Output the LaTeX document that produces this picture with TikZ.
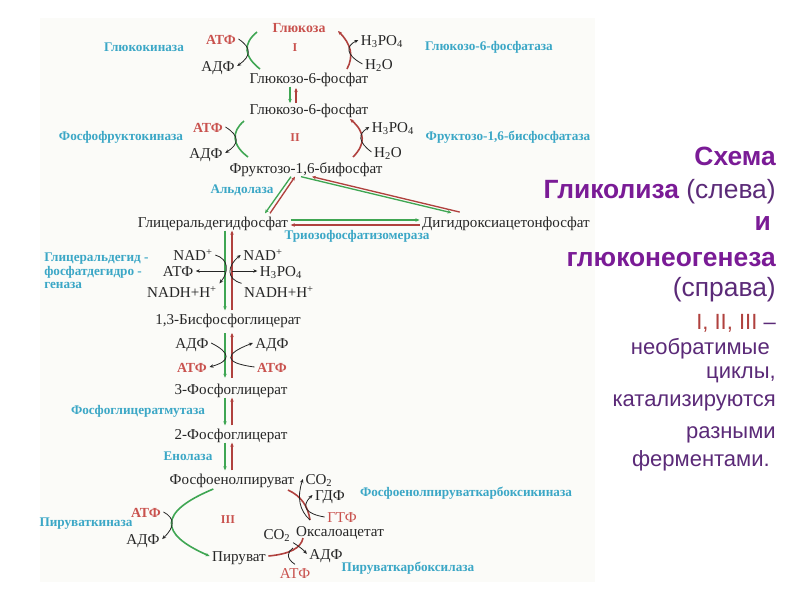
\documentclass[tikz,border=0pt]{standalone}
\usepackage{fontspec}
\setmainfont{Liberation Serif}
\newfontfamily\rightfont{Liberation Sans}
\usetikzlibrary{arrows.meta}
\definecolor{panelc}{HTML}{FBFBF8}
\definecolor{cyanc}{HTML}{3BA7C6}
\definecolor{redc}{HTML}{C9524E}
\definecolor{greenc}{HTML}{3FA653}
\definecolor{darkred}{HTML}{B0413E}
\definecolor{purplec}{HTML}{7A1B96}
\definecolor{purpled}{HTML}{5B2A78}
\tikzset{
  tx/.style={inner sep=0pt,outer sep=2pt,text height=8.5pt,text depth=0.5pt,font=\fontsize{11.3}{13}\selectfont,text=black!85},
  rtx/.style={tx,font=\fontsize{10.4}{12}\selectfont\bfseries,text=redc},
  enz/.style={inner sep=0pt,font=\fontsize{9.9}{11}\selectfont\bfseries,text=cyanc},
  rom/.style={inner sep=0pt,font=\fontsize{9}{10}\selectfont\bfseries,text=redc},
  big/.style={inner sep=0pt,anchor=east,font=\rightfont\fontsize{19.8}{22}\selectfont,text=purpled},
  small/.style={inner sep=0pt,anchor=east,font=\rightfont\fontsize{16.5}{18}\selectfont,text=purpled},
  grn/.style={draw=greenc,line width=1pt,-{Stealth[length=3pt,width=2.6pt]}},
  rdl/.style={draw=darkred,line width=1pt,-{Stealth[length=3pt,width=2.6pt]}},
  garc/.style={draw=greenc,line width=1.2pt},
  rarc/.style={draw=darkred,line width=1.2pt},
  cur/.style={draw=black!85,line width=0.6pt,-{Stealth[length=3pt,width=2.6pt]}},
  pln/.style={draw=black!85,line width=0.6pt}
}
\newcommand{\bp}[1]{\textbf{\textcolor{purplec}{#1}}}
\begin{document}
\begin{tikzpicture}[x=0.75pt,y=-0.75pt]
\useasboundingbox (0,0) rectangle (800,600);
\fill[white] (0,0) rectangle (800,600);
\fill[panelc] (40,18) rectangle (595,582);

% metabolites
\node[rtx] (gluc) at (299,27) {Глюкоза};
\node[rom] (r1) at (295,48) {I};
\node[rtx] (atf1) at (221,39) {АТФ};
\node[tx] (adf1) at (218,66) {АДФ};
\node[enz] (e1) at (144,47) {Глюкокиназа};
\node[tx] (hp1) at (382,40) {H\textsubscript{3}PO\textsubscript{4}};
\node[tx] (hw1) at (379,64) {H\textsubscript{2}O};
\node[enz] (e2) at (489,47) {Глюкозо-6-фосфатаза};
\node[tx] (gA) at (309,78) {Глюкозо-6-фосфат};
\node[tx] (gB) at (309,109) {Глюкозо-6-фосфат};
\node[rtx] (atf2) at (208,127) {АТФ};
\node[tx] (adf2) at (206,153) {АДФ};
\node[enz] (e3) at (121,137) {Фосфофруктокиназа};
\node[rom] (r2) at (295,138) {II};
\node[tx] (hp2) at (393,127) {H\textsubscript{3}PO\textsubscript{4}};
\node[tx] (hw2) at (388,152) {H\textsubscript{2}O};
\node[enz] (e4) at (508,137) {Фруктозо-1,6-бисфосфатаза};
\node[tx] (fbp) at (306,168) {Фруктозо-1,6-бифосфат};
\node[enz] (e5) at (242,190) {Альдолаза};
\node[tx] (gap) at (213,222) {Глицеральдегидфосфат};
\node[tx] (dhap) at (506,222) {Дигидроксиацетонфосфат};
\node[enz] (e6) at (357,236) {Триозофосфатизомераза};
\node[enz,anchor=west] (e7a) at (44,259) {Глицеральдегид -};
\node[enz,anchor=west] (e7b) at (44,272) {фосфатдегидро -};
\node[enz,anchor=west] (e7c) at (44,285) {геназа};
\node[tx] (nadL) at (193,255) {NAD\textsuperscript{+}};
\node[tx] (atf3) at (178,271) {АТФ};
\node[tx] (nhL) at (182,292) {NADH+H\textsuperscript{+}};
\node[tx] (nadR) at (263,255) {NAD\textsuperscript{+}};
\node[tx] (hp3) at (281,271) {H\textsubscript{3}PO\textsubscript{4}};
\node[tx] (nhR) at (279,292) {NADH+H\textsuperscript{+}};
\node[tx] (bpg) at (228,319) {1,3-Бисфосфоглицерат};
\node[tx] (adfL) at (192,343) {АДФ};
\node[tx] (adfR) at (272,343) {АДФ};
\node[rtx] (atfL) at (192,367) {АТФ};
\node[rtx] (atfR) at (272,367) {АТФ};
\node[tx] (pg3) at (231,389) {3-Фосфоглицерат};
\node[enz] (e8) at (138,411) {Фосфоглицератмутаза};
\node[tx] (pg2) at (231,434) {2-Фосфоглицерат};
\node[enz] (e9) at (188,456) {Енолаза};
\node[tx] (pep) at (232,479) {Фосфоенолпируват};
\node[tx] (co1) at (319,479) {CO\textsubscript{2}};
\node[tx] (gdf) at (330,495) {ГДФ};
\node[enz] (e10) at (466,493) {Фосфоенолпируваткарбоксикиназа};
\node[rtx] (atf4) at (146,512) {АТФ};
\node[enz] (e11) at (86,524) {Пируваткиназа};
\node[tx] (adf4) at (143,539) {АДФ};
\node[rom] (r3) at (228,520) {III};
\node[tx,text=redc] (gtf) at (342,517) {ГТФ};
\node[tx] (oaa) at (340,531) {Оксалоацетат};
\node[tx] (co2) at (277,534) {CO\textsubscript{2}};
\node[tx] (pyr) at (239,556) {Пируват};
\node[tx] (adf5) at (326,554) {АДФ};
\node[tx,text=redc] (atf5) at (295,573) {АТФ};
\node[enz] (e12) at (408,568) {Пируваткарбоксилаза};

% right-hand text
\node[big] (t1) at (776,156) {\bp{Схема}};
\node[big] (t2) at (776,192) {\bp{Гликолиза} (слева)};
\node[big] (t3) at (771,224) {\bp{и}};
\node[big] (t4) at (776,260) {\bp{глюконеогенеза}};
\node[big] (t5) at (776,290) {(справа)};
\node[small] (t6) at (776,323) {\textcolor{darkred}{I, II, III} –};
\node[small] (t7) at (770,349) {необратимые};
\node[small] (t8) at (776,375) {циклы,};
\node[small] (t9) at (776,403) {катализируются};
\node[small] (t10) at (776,435) {разными};
\node[small] (t11) at (770,461) {ферментами.};

% free ends of the enzyme arcs
\coordinate (g1a) at (257,32); \coordinate (g1b) at (260,69);
\coordinate (r1a) at (347,69); \coordinate (r1b) at (338,31);
\coordinate (g2a) at (244,121); \coordinate (g2b) at (248,157);
\coordinate (r2a) at (353,157); \coordinate (r2b) at (350,119);
\coordinate (sL) at (225,271); \coordinate (sR) at (232,271);
\coordinate (p1) at (288,490); \coordinate (p2) at (310,520);
\coordinate (p3) at (303,538); \coordinate (p4) at (293,548);

% cycle I and II
\draw[garc] (g1a) .. controls (242.7,43.7) and (243.7,56.2) .. (g1b);
\draw[cur] (atf1.east) .. controls (252,48) and (251,56) .. (adf1.east);
\draw[rarc,-{Stealth[length=3pt,width=2.6pt]}] (r1a) .. controls (354,56) and (351,44) .. (r1b);
\draw[cur] (hw1.west) .. controls (345,54.5) and (346,45.8) .. (hp1.west);
\draw[garc] (g2a) .. controls (231,132) and (232,145) .. (g2b);
\draw[cur] (atf2.east) .. controls (240,136) and (239,144) .. (adf2.east);
\draw[rarc,-{Stealth[length=3pt,width=2.6pt]}] (r2a) .. controls (366,144) and (365,132) .. (r2b);
\draw[cur] (hw2.west) .. controls (358,142) and (358,134) .. (hp2.west);
\draw[grn,shorten >=-2pt] ([xshift=-14.25pt]gA.south) -- ([xshift=-14.25pt]gB.north);
\draw[rdl,shorten >=1pt,shorten <=-2pt] ([xshift=-9.75pt]gB.north) -- ([xshift=-9.75pt]gA.south);

% aldolase triangle
\draw[grn] ([xshift=-11.25pt]fbp.south) -- ([xshift=39pt]gap.north);
\draw[rdl] ([xshift=42.75pt]gap.north) -- ([xshift=-8.25pt]fbp.south);
\draw[grn,shorten >=2pt] ([xshift=-3.75pt]fbp.south) -- ([xshift=-39pt]dhap.north);
\draw[rdl,shorten <=4pt] ([xshift=-30.75pt]dhap.north) -- ([xshift=4.5pt]fbp.south);
\draw[grn] ([yshift=1.5pt]gap.east) -- ([yshift=1.5pt]dhap.west);
\draw[rdl] ([yshift=-2.25pt]dhap.west) -- ([yshift=-2.25pt]gap.east);

% main trunk
\draw[grn] ([xshift=9pt]gap.south) -- ([xshift=-2.25pt]bpg.north);
\draw[rdl] ([xshift=3pt]bpg.north) -- ([xshift=14.25pt]gap.south);
\draw[grn,shorten >=2pt] ([xshift=-2.25pt,yshift=-4pt]bpg.south) -- ([xshift=-4.5pt]pg3.north);
\draw[rdl,shorten <=2pt] ([xshift=0.75pt]pg3.north) -- ([xshift=3pt,yshift=-4pt]bpg.south);
\draw[grn] ([xshift=-4.5pt]pg3.south) -- ([xshift=-4.5pt]pg2.north);
\draw[rdl] ([xshift=0.75pt]pg2.north) -- ([xshift=0.75pt]pg3.south);
\draw[grn] ([xshift=-4.5pt]pg2.south) -- ([xshift=-5.25pt]pep.north);
\draw[rdl] ([xshift=0pt]pep.north) -- ([xshift=0.75pt]pg2.south);

% NAD block
\draw[cur] (nadL.east) .. controls (229,259) and (229,272) .. (nhL.north east);
\draw[cur] (sL) -- (atf3.east);
\draw[cur] (sR) -- (hp3.west);
\draw[cur] (nhR.north west) .. controls (226,279) and (227,266) .. (nadR.west);

% ADP / ATP block
\draw[cur] (adfL.east) .. controls (231,353) and (231,361) .. (atfL.east);
\draw[cur] (atfR.west) .. controls (223,363) and (224,354) .. (adfR.west);

% cycle III
\draw[garc,-{Stealth[length=3pt,width=2.6pt]}] ([xshift=-14pt,yshift=-1pt]pep.south) .. controls (158,512) and (159,534) .. (pyr.west);
\draw[cur] (atf4.east) .. controls (175,518) and (175,527) .. (adf4.east);
\draw[rarc] (p1) .. controls (301,496) and (308,506) .. (p2);
\draw[cur] (gtf.west) .. controls (307,514) and (300,507) .. (gdf.west);
\draw[cur] (p2) .. controls (299,510) and (297,497) .. (co1.west);
\draw[rarc] (pyr.east) .. controls (290,554) and (301,548) .. (p3);
\draw[cur] (co2.south east) .. controls (292,542) and (302,548) .. (adf5.west);
\draw[pln] (atf5.north) .. controls (285,558) and (288,551) .. (p4);
\end{tikzpicture}
\end{document}
